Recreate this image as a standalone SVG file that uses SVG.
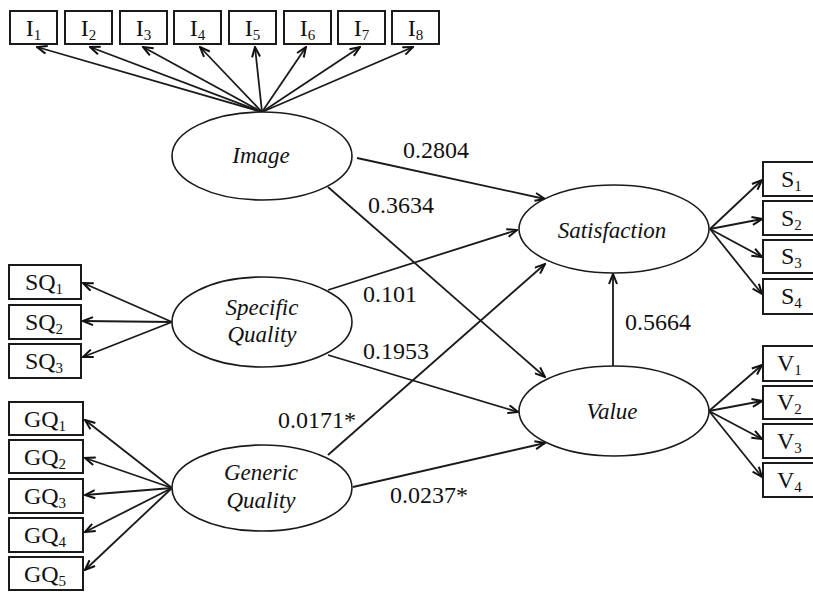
<svg xmlns="http://www.w3.org/2000/svg" width="813" height="593" viewBox="0 0 813 593">
<style>
.bx{fill:#fff;stroke:#1a1a1a;stroke-width:2}
.el{fill:#fff;stroke:#1a1a1a;stroke-width:1.6}
.ln{stroke:#1a1a1a;stroke-width:1.8;fill:none;marker-end:url(#ah)}
text{font-family:'Liberation Serif','Tinos','DejaVu Serif',serif;fill:#111}
.t{font-size:24px}
.lt{font-size:23px;font-style:italic;text-anchor:middle}
.c{text-anchor:middle}
.sb{font-size:15px}
.num{font-size:24px}
</style>
<defs>
<marker id="ah" viewBox="0 0 12 10" refX="11" refY="5" markerWidth="12" markerHeight="10" markerUnits="userSpaceOnUse" orient="auto">
<path d="M1,1 L11,5 L1,9" fill="none" stroke="#111" stroke-width="2"/>
</marker>
</defs>
<rect width="813" height="593" fill="#fff"/>
<g id="connectors">
<line class="ln" x1="262" y1="112" x2="37" y2="47"/>
<line class="ln" x1="262" y1="112" x2="90" y2="47"/>
<line class="ln" x1="262" y1="112" x2="143" y2="47"/>
<line class="ln" x1="262" y1="112" x2="200" y2="47"/>
<line class="ln" x1="262" y1="112" x2="255" y2="47"/>
<line class="ln" x1="262" y1="112" x2="306" y2="47"/>
<line class="ln" x1="262" y1="112" x2="360" y2="47"/>
<line class="ln" x1="262" y1="112" x2="413" y2="47"/>
<line class="ln" x1="172" y1="322" x2="83" y2="283"/>
<line class="ln" x1="172" y1="322" x2="83" y2="321"/>
<line class="ln" x1="172" y1="322" x2="83" y2="357"/>
<line class="ln" x1="172" y1="488" x2="85" y2="420"/>
<line class="ln" x1="172" y1="488" x2="85" y2="458"/>
<line class="ln" x1="172" y1="488" x2="85" y2="495"/>
<line class="ln" x1="172" y1="488" x2="85" y2="532"/>
<line class="ln" x1="172" y1="488" x2="85" y2="570"/>
<line class="ln" x1="710" y1="229" x2="762" y2="180"/>
<line class="ln" x1="710" y1="229" x2="762" y2="219"/>
<line class="ln" x1="710" y1="229" x2="762" y2="257"/>
<line class="ln" x1="710" y1="229" x2="762" y2="294"/>
<line class="ln" x1="709" y1="411" x2="762" y2="365"/>
<line class="ln" x1="709" y1="411" x2="762" y2="401"/>
<line class="ln" x1="709" y1="411" x2="762" y2="439"/>
<line class="ln" x1="709" y1="411" x2="762" y2="477"/>
<line class="ln" x1="357" y1="158" x2="545" y2="199"/>
<line class="ln" x1="328" y1="187" x2="545" y2="377"/>
<line class="ln" x1="328" y1="290" x2="517" y2="230"/>
<line class="ln" x1="328" y1="355" x2="518" y2="412"/>
<line class="ln" x1="328" y1="455" x2="545" y2="264"/>
<line class="ln" x1="353" y1="487" x2="545" y2="443"/>
<line class="ln" x1="613" y1="367" x2="613" y2="274"/>
</g>
<g id="labels">
<text class="num" x="403" y="158">0.2804</text>
<text class="num" x="368" y="213">0.3634</text>
<text class="num" x="363" y="302">0.101</text>
<text class="num" x="363" y="359">0.1953</text>
<text class="num" x="278" y="428">0.0171*</text>
<text class="num" x="390" y="503">0.0237*</text>
<text class="num" x="625" y="330">0.5664</text>
</g>
<g id="I1"><rect class="bx" x="10" y="11" width="47" height="33"/><text class="t c" x="33.5" y="36">I<tspan class="sb" dy="4">1</tspan></text></g>
<g id="I2"><rect class="bx" x="65" y="11" width="47" height="33"/><text class="t c" x="88.5" y="36">I<tspan class="sb" dy="4">2</tspan></text></g>
<g id="I3"><rect class="bx" x="120" y="11" width="47" height="33"/><text class="t c" x="143.5" y="36">I<tspan class="sb" dy="4">3</tspan></text></g>
<g id="I4"><rect class="bx" x="174" y="11" width="47" height="33"/><text class="t c" x="197.5" y="36">I<tspan class="sb" dy="4">4</tspan></text></g>
<g id="I5"><rect class="bx" x="229" y="11" width="47" height="33"/><text class="t c" x="252.5" y="36">I<tspan class="sb" dy="4">5</tspan></text></g>
<g id="I6"><rect class="bx" x="284" y="11" width="47" height="33"/><text class="t c" x="307.5" y="36">I<tspan class="sb" dy="4">6</tspan></text></g>
<g id="I7"><rect class="bx" x="338" y="11" width="47" height="33"/><text class="t c" x="361.5" y="36">I<tspan class="sb" dy="4">7</tspan></text></g>
<g id="I8"><rect class="bx" x="392" y="11" width="47" height="33"/><text class="t c" x="415.5" y="36">I<tspan class="sb" dy="4">8</tspan></text></g>
<g id="SQ1"><rect class="bx" x="9" y="265" width="72" height="34"/><text class="t c" x="44" y="290">SQ<tspan class="sb" dy="4">1</tspan></text></g>
<g id="SQ2"><rect class="bx" x="9" y="305" width="72" height="34"/><text class="t c" x="44" y="330">SQ<tspan class="sb" dy="4">2</tspan></text></g>
<g id="SQ3"><rect class="bx" x="9" y="344" width="72" height="34"/><text class="t c" x="44" y="369">SQ<tspan class="sb" dy="4">3</tspan></text></g>
<g id="GQ1"><rect class="bx" x="9" y="402" width="74" height="33"/><text class="t c" x="45" y="427">GQ<tspan class="sb" dy="4">1</tspan></text></g>
<g id="GQ2"><rect class="bx" x="9" y="440" width="74" height="33"/><text class="t c" x="45" y="465">GQ<tspan class="sb" dy="4">2</tspan></text></g>
<g id="GQ3"><rect class="bx" x="9" y="479" width="74" height="34"/><text class="t c" x="45" y="504">GQ<tspan class="sb" dy="4">3</tspan></text></g>
<g id="GQ4"><rect class="bx" x="9" y="518" width="74" height="34"/><text class="t c" x="45" y="543">GQ<tspan class="sb" dy="4">4</tspan></text></g>
<g id="GQ5"><rect class="bx" x="9" y="557" width="74" height="33"/><text class="t c" x="45" y="582">GQ<tspan class="sb" dy="4">5</tspan></text></g>
<g id="S1"><rect class="bx" x="763" y="162" width="70" height="34"/><text class="t" x="781" y="187">S<tspan class="sb" dy="4">1</tspan></text></g>
<g id="S2"><rect class="bx" x="763" y="201" width="70" height="34"/><text class="t" x="781" y="226">S<tspan class="sb" dy="4">2</tspan></text></g>
<g id="S3"><rect class="bx" x="763" y="240" width="70" height="33"/><text class="t" x="781" y="264">S<tspan class="sb" dy="4">3</tspan></text></g>
<g id="S4"><rect class="bx" x="763" y="279" width="70" height="35"/><text class="t" x="781" y="304">S<tspan class="sb" dy="4">4</tspan></text></g>
<g id="V1"><rect class="bx" x="763" y="346" width="70" height="35"/><text class="t" x="777" y="371">V<tspan class="sb" dy="4">1</tspan></text></g>
<g id="V2"><rect class="bx" x="763" y="386" width="70" height="33"/><text class="t" x="777" y="410">V<tspan class="sb" dy="4">2</tspan></text></g>
<g id="V3"><rect class="bx" x="763" y="424" width="70" height="34"/><text class="t" x="777" y="449">V<tspan class="sb" dy="4">3</tspan></text></g>
<g id="V4"><rect class="bx" x="763" y="463" width="70" height="34"/><text class="t" x="777" y="488">V<tspan class="sb" dy="4">4</tspan></text></g>
<g id="Image"><ellipse class="el" cx="262" cy="156" rx="90" ry="44"/><text class="lt" x="261" y="163">Image</text></g>
<g id="SpecificQuality"><ellipse class="el" cx="262" cy="322" rx="90" ry="45"/><text class="lt" x="262" y="315">Specific</text><text class="lt" x="262" y="342">Quality</text></g>
<g id="GenericQuality"><ellipse class="el" cx="262" cy="488" rx="90" ry="43"/><text class="lt" x="261" y="480">Generic</text><text class="lt" x="261" y="508">Quality</text></g>
<g id="Satisfaction"><ellipse class="el" cx="614" cy="229" rx="95" ry="44"/><text class="lt" x="612" y="238">Satisfaction</text></g>
<g id="Value"><ellipse class="el" cx="614" cy="411" rx="95" ry="45"/><text class="lt" x="612" y="419">Value</text></g>
</svg>
